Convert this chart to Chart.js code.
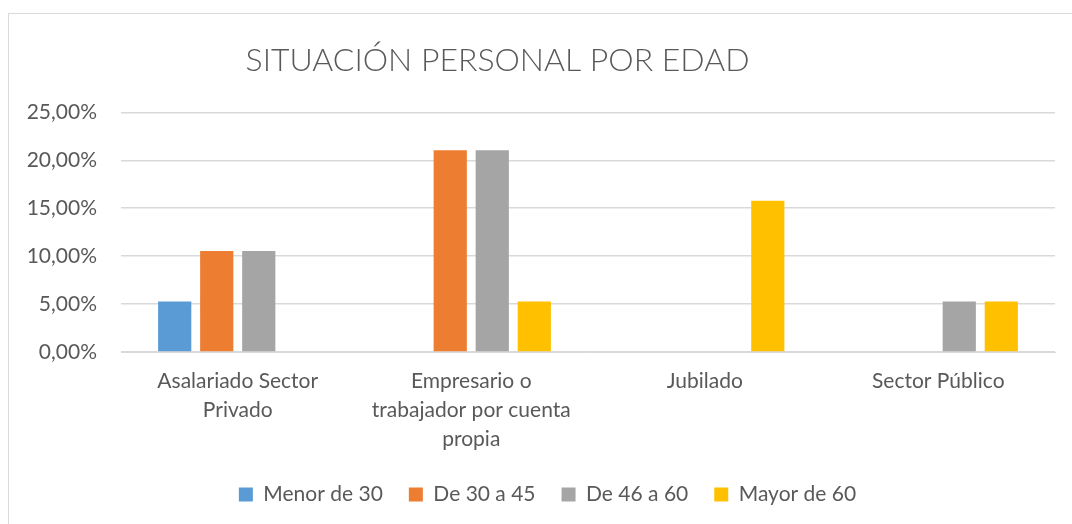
<!DOCTYPE html>
<html>
<head>
<meta charset="utf-8">
<script src="https://cdn.jsdelivr.net/npm/chart.js@4"></script>
<style>
  html, body { margin: 0; padding: 0; background: #fff; overflow: hidden; }
  #frame { position: absolute; left: 8px; top: 13px; width: 1100px; height: 600px; border: 1px solid #d9d9d9; }
  #wrap { position: absolute; left: 0; top: 0; width: 1072px; height: 524px; }
</style>
</head>
<body>
<div id="frame"></div>
<div id="wrap"><canvas id="chart" width="1072" height="524"></canvas></div>
<script>
"use strict";

// categories (x axis, already split into lines like the original)
const categories = [
  ['Asalariado Sector', 'Privado'],
  ['Empresario o', 'trabajador por cuenta', 'propia'],
  ['Jubilado'],
  ['Sector Público']
];

// series values, in percent
const menor30 = [5.26, 0, 0, 0];
const de30a45 = [10.53, 21.05, 0, 0];
const de46a60 = [10.53, 21.05, 0, 5.26];
const mayor60 = [0, 5.26, 15.79, 5.26];

const seriesNames = ['Menor de 30', 'De 30 a 45', 'De 46 a 60', 'Mayor de 60'];
const seriesColors = ['#5B9BD5', '#ED7D31', '#A5A5A5', '#FFC000'];

const yMax = 25;
const yStep = 5;

const textColor = '#595959';
const fontFamily = "Lato, 'Open Sans', sans-serif";

// title sits a bit left of centre in the original, legend a bit right
const nudgeBoxes = {
  id: 'nudgeBoxes',
  afterLayout(chart) {
    if (chart.titleBlock) chart.titleBlock.right -= 60;
    if (chart.legend) chart.legend.left += 40;
  }
};

const ctx = document.getElementById('chart').getContext('2d');

new Chart(ctx, {
  type: 'bar',
  data: {
    labels: categories,
    datasets: [menor30, de30a45, de46a60, mayor60].map((vals, i) => ({
      label: seriesNames[i],
      data: vals,
      backgroundColor: seriesColors[i],
      borderWidth: 0,
      barPercentage: 0.79,
      categoryPercentage: 0.72
    }))
  },
  options: {
    responsive: false,
    animation: false,
    layout: { padding: { left: 0, right: 17, top: 22, bottom: 9 } },
    plugins: {
      title: {
        display: true,
        text: 'SITUACIÓN PERSONAL POR EDAD',
        color: textColor,
        font: { family: fontFamily, size: 32, weight: '300' },
        padding: { top: 19, bottom: 33 }
      },
      legend: {
        position: 'bottom',
        labels: {
          color: textColor,
          font: { family: fontFamily, size: 21 },
          boxWidth: 14,
          boxHeight: 14,
          padding: 26
        }
      },
      tooltip: { enabled: false }
    },
    scales: {
      x: {
        grid: { display: false, drawTicks: false },
        border: { display: true, color: '#D9D9D9', width: 1 },
        ticks: {
          color: textColor,
          font: { family: fontFamily, size: 21, lineHeight: 1.38 },
          padding: 15,
          maxRotation: 0,
          autoSkip: false
        },
        afterFit: function(scale) { scale.height = 106; }
      },
      y: {
        min: 0,
        max: yMax,
        grid: { color: '#D9D9D9', lineWidth: 1.5, drawTicks: false },
        border: { display: false },
        ticks: {
          stepSize: yStep,
          color: textColor,
          font: { family: fontFamily, size: 21 },
          padding: 24,
          callback: function(v) { return v.toFixed(2).replace('.', ',') + '%'; }
        },
        afterFit: function(scale) { scale.width = 121; }
      }
    }
  },
  plugins: [nudgeBoxes]
});
</script>
</body>
</html>
